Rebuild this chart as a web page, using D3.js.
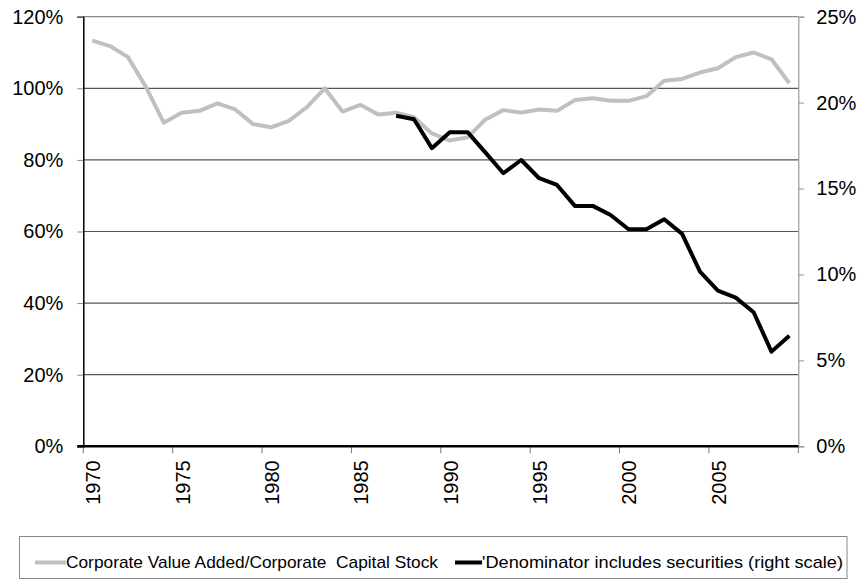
<!DOCTYPE html>
<html><head><meta charset="utf-8">
<script src="https://cdn.jsdelivr.net/npm/d3@7/dist/d3.min.js"></script>
<style>body{margin:0;background:#fff}svg{display:block}text{font-family:"Liberation Sans",Arial,sans-serif}</style>
</head><body><svg id="c" width="863" height="586"></svg>
<script>
const years = d3.range(1970, 2010);
const valueAdded = [113.3,111.8,108.7,100.4,90.4,93.2,93.7,95.8,94.1,90.0,
  89.1,90.9,94.7,100.0,93.5,95.4,92.7,93.2,91.9,87.4,
  85.4,86.3,91.3,93.9,93.2,94.1,93.7,96.7,97.2,96.5,
  96.5,97.8,102.1,102.6,104.4,105.6,108.7,110.0,108.1,101.4];
const secYears = d3.range(1987, 2010);
const withSecurities = [19.24,19.03,17.35,18.28,18.28,17.09,15.89,16.66,15.6,15.21,
  13.99,13.99,13.46,12.63,12.63,13.21,12.36,10.16,9.06,8.65,7.8,5.51,6.44];
const leftTicks = [0,20,40,60,80,100,120];
const rightTicks = [0,5,10,15,20,25];
const xTickLabels = [1970,1975,1980,1985,1990,1995,2000,2005];
const legendLabels = ["Corporate Value Added/Corporate  Capital Stock","'Denominator includes securities (right scale)"];

const svg = d3.select("#c");
const L = 83.3, R = 798.3, T = 16.7, B = 446.3;
const x = d3.scaleBand().domain(years).range([L, R]).padding(0);
const cx = d => x(d) + x.bandwidth()/2;
const yL = d3.scaleLinear().domain([0,120]).range([B,T]);
const yR = d3.scaleLinear().domain([0,25]).range([B,T]);

// gridlines
svg.append("g").selectAll("line").data(leftTicks.filter(d=>d>0)).join("line")
  .attr("x1", L).attr("x2", R).attr("y1", d=>yL(d)).attr("y2", d=>yL(d))
  .attr("stroke", d=> d===120 ? "#8a8a8a" : "#555").attr("stroke-width", 1.2);

// left axis
const gl = svg.append("g").attr("transform", `translate(${L},0)`)
  .call(d3.axisLeft(yL).tickValues(leftTicks).tickFormat(d=>d+"%").tickSize(6).tickPadding(14));
gl.select(".domain").attr("stroke","#000").attr("stroke-width",1.5);
gl.selectAll(".tick line").attr("stroke","#888");
gl.selectAll("text").attr("font-size",20).attr("fill","#000").style("font-family","Liberation Sans, Arial, sans-serif");

// right axis
const gr = svg.append("g").attr("transform", `translate(${R},0)`)
  .call(d3.axisRight(yR).tickValues(rightTicks).tickFormat(d=>d+"%").tickSize(6).tickPadding(12));
gr.select(".domain").attr("stroke","#999").attr("stroke-width",1.2);
gr.selectAll(".tick line").attr("stroke","#999");
gr.selectAll("text").attr("font-size",20).attr("fill","#000").style("font-family","Liberation Sans, Arial, sans-serif");

// bottom axis
const tickPos = xTickLabels.map(d=>x(d)).concat([R]);
svg.append("g").selectAll("line").data(tickPos).join("line")
  .attr("x1", d=>d).attr("x2", d=>d).attr("y1", B).attr("y2", B+7)
  .attr("stroke","#777").attr("stroke-width",1);
svg.append("line").attr("x1", L-6).attr("x2", R).attr("y1", B).attr("y2", B)
  .attr("stroke","#000").attr("stroke-width",2.5);
svg.append("g").selectAll("text").data(xTickLabels).join("text")
  .attr("transform", d=>`translate(${cx(d)+1},${B+14}) rotate(-90)`)
  .attr("text-anchor","end").attr("dy","0.35em")
  .attr("font-size",20).attr("fill","#000").text(d=>d);

// lines
const lineL = d3.line().x((d,i)=>cx(years[i])).y(d=>yL(d));
svg.append("path").attr("d", lineL(valueAdded)).attr("fill","none")
  .attr("stroke","#c0c0c0").attr("stroke-width",4).attr("stroke-linejoin","round");
const lineR = d3.line().x((d,i)=>cx(secYears[i])).y(d=>yR(d));
svg.append("path").attr("d", lineR(withSecurities)).attr("fill","none")
  .attr("stroke","#000").attr("stroke-width",4).attr("stroke-linejoin","round");

// legend
svg.append("rect").attr("x",19.5).attr("y",536.5).attr("width",827.5).attr("height",42)
  .attr("fill","#fff").attr("stroke","#888").attr("stroke-width",1);
const ly = 562.5;
svg.append("line").attr("x1",35).attr("x2",66).attr("y1",ly).attr("y2",ly).attr("stroke","#c0c0c0").attr("stroke-width",4);
svg.append("text").attr("x",66).attr("y",ly).attr("dy","0.35em").attr("font-size",17)
  .attr("textLength",372).attr("lengthAdjust","spacingAndGlyphs").style("white-space","pre").text(legendLabels[0]);
svg.append("line").attr("x1",455).attr("x2",482).attr("y1",ly).attr("y2",ly).attr("stroke","#000").attr("stroke-width",4);
svg.append("text").attr("x",482).attr("y",ly).attr("dy","0.35em").attr("font-size",17)
  .attr("textLength",361).attr("lengthAdjust","spacingAndGlyphs").style("white-space","pre").text(legendLabels[1]);
</script></body></html>
